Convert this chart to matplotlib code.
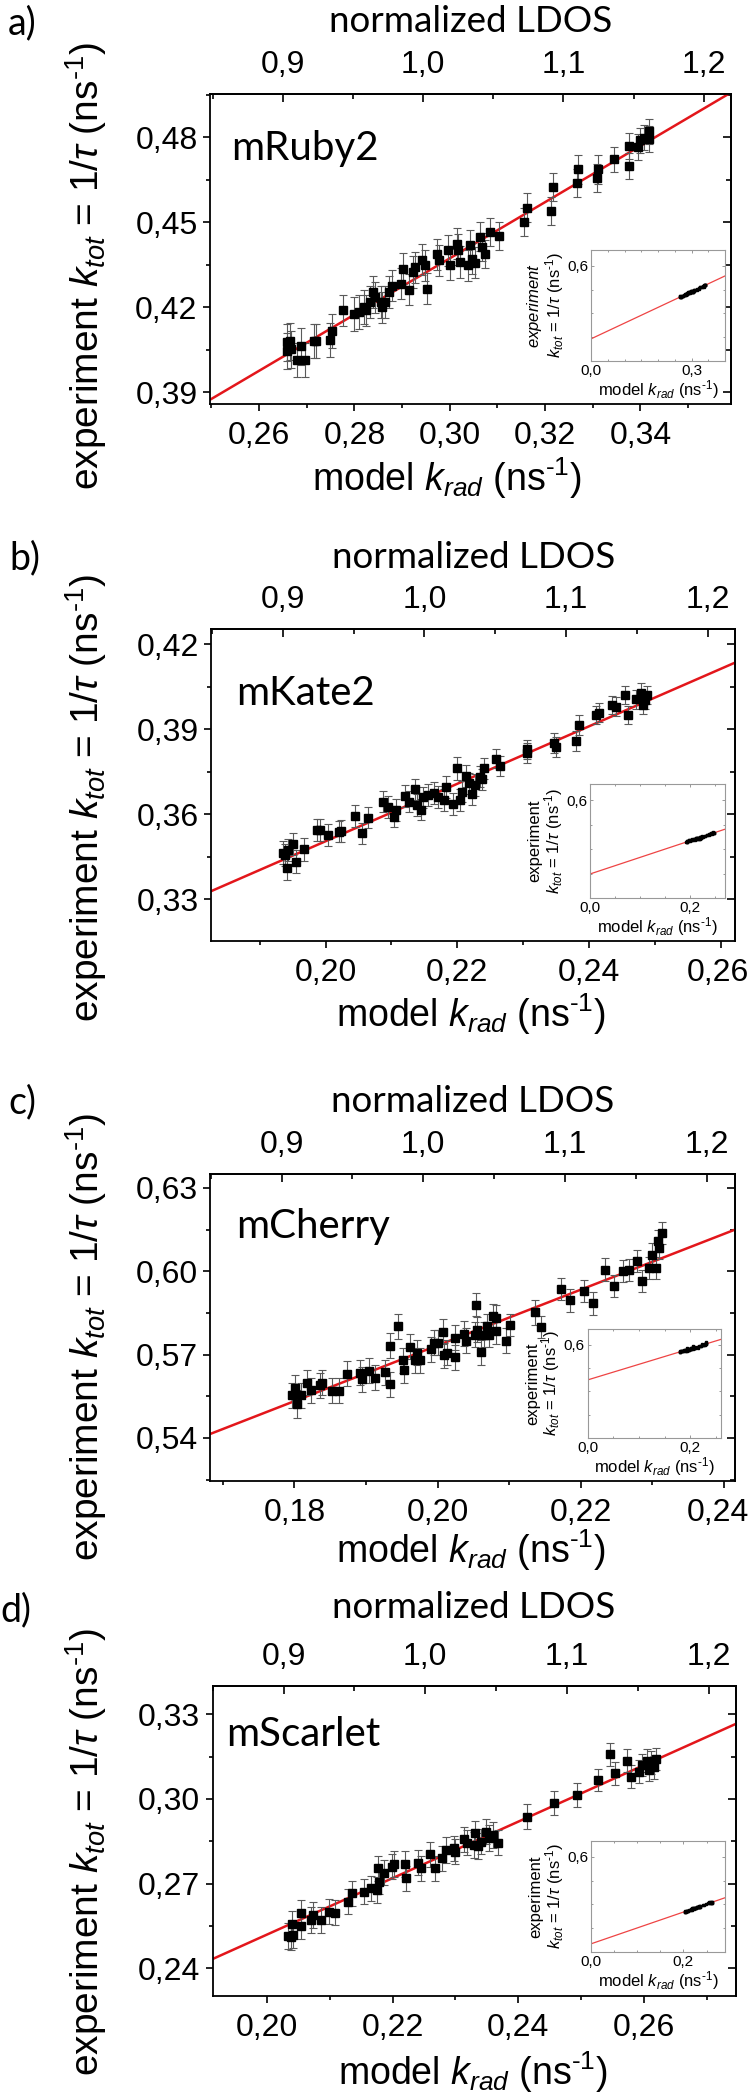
import matplotlib
matplotlib.use('Agg')
import matplotlib.pyplot as plt
from matplotlib.ticker import FuncFormatter, MultipleLocator, FixedLocator, NullFormatter
from matplotlib.transforms import ScaledTranslation
import numpy as np

plt.rcParams['font.family'] = ['Liberation Sans', 'DejaVu Sans']
plt.rcParams['mathtext.fontset'] = 'custom'
plt.rcParams['mathtext.rm'] = 'Liberation Sans'
plt.rcParams['mathtext.it'] = 'Liberation Sans:italic'
plt.rcParams['mathtext.bf'] = 'Liberation Sans:bold'

# ---------------- data ----------------
names = ['mRuby2', 'mKate2', 'mCherry', 'mScarlet']
letters = ['a)', 'b)', 'c)', 'd)']

krad_a = [0.2658, 0.2658, 0.2665, 0.2667, 0.2680, 0.2687, 0.2697, 0.2715, 0.2720, 0.2748, 0.2753, 0.2777,
          0.2800, 0.2810, 0.2820, 0.2825, 0.2832, 0.2840, 0.2843, 0.2855, 0.2858, 0.2865, 0.2873, 0.2878,
          0.2898, 0.2902, 0.2915, 0.2922, 0.2927, 0.2942, 0.2948, 0.2953, 0.2973, 0.2978, 0.2997, 0.3000,
          0.3015, 0.3018, 0.3022, 0.3038, 0.3042, 0.3047, 0.3052, 0.3063, 0.3068, 0.3073, 0.3085, 0.3103,
          0.3155, 0.3162, 0.3213, 0.3217, 0.3267, 0.3268, 0.3308, 0.3310, 0.3345, 0.3375, 0.3377, 0.3395,
          0.3400, 0.3408, 0.3417, 0.3417]
ktot_a = [0.4076, 0.4045, 0.4080, 0.4051, 0.4014, 0.4062, 0.4014, 0.4082, 0.4080, 0.4085, 0.4115, 0.4189,
          0.4174, 0.4182, 0.4200, 0.4188, 0.4218, 0.4253, 0.4235, 0.4218, 0.4200, 0.4218, 0.4253, 0.4276,
          0.4282, 0.4335, 0.4261, 0.4324, 0.4341, 0.4367, 0.4347, 0.4265, 0.4386, 0.4365, 0.4400, 0.4349,
          0.4424, 0.4402, 0.4359, 0.4347, 0.4418, 0.4371, 0.4357, 0.4449, 0.4412, 0.4388, 0.4465, 0.4451,
          0.4500, 0.4551, 0.4538, 0.4624, 0.4639, 0.4686, 0.4655, 0.4686, 0.4721, 0.4698, 0.4768, 0.4765,
          0.4788, 0.4798, 0.4820, 0.4794]
err_a = [0.0065, 0.0065, 0.0065, 0.0065, 0.0060, 0.0065, 0.0060, 0.0060, 0.0060, 0.0060, 0.0060, 0.0055,
         0.0060, 0.0060, 0.0060, 0.0055, 0.0055, 0.0055, 0.0055, 0.0055, 0.0055, 0.0055, 0.0055, 0.0055,
         0.0055, 0.0055, 0.0055, 0.0055, 0.0055, 0.0055, 0.0055, 0.0055, 0.0055, 0.0055, 0.0055, 0.0055,
         0.0055, 0.0055, 0.0055, 0.0055, 0.0055, 0.0055, 0.0055, 0.0050, 0.0050, 0.0050, 0.0050, 0.0050,
         0.0050, 0.0050, 0.0050, 0.0050, 0.0050, 0.0050, 0.0050, 0.0050, 0.0045, 0.0045, 0.0045, 0.0045,
         0.0045, 0.0045, 0.0045, 0.0045]

krad_b = [0.1936, 0.1938, 0.1941, 0.1943, 0.1951, 0.1955, 0.1967, 0.1987, 0.1991, 0.2004, 0.2020, 0.2023,
          0.2045, 0.2055, 0.2065, 0.2087, 0.2095, 0.2104, 0.2107, 0.2121, 0.2127, 0.2136, 0.2138, 0.2145,
          0.2148, 0.2156, 0.2165, 0.2170, 0.2179, 0.2183, 0.2194, 0.2200, 0.2204, 0.2207, 0.2213, 0.2218,
          0.2222, 0.2227, 0.2234, 0.2238, 0.2240, 0.2258, 0.2265, 0.2305, 0.2306, 0.2347, 0.2349, 0.2380,
          0.2385, 0.2410, 0.2414, 0.2434, 0.2440, 0.2454, 0.2459, 0.2471, 0.2478, 0.2481, 0.2485, 0.2487]
ktot_b = [0.3464, 0.3455, 0.3408, 0.3473, 0.3494, 0.3432, 0.3475, 0.3544, 0.3544, 0.3526, 0.3538, 0.3541,
          0.3593, 0.3532, 0.3587, 0.3644, 0.3624, 0.3591, 0.3614, 0.3664, 0.3644, 0.3687, 0.3632, 0.3616,
          0.3659, 0.3667, 0.3675, 0.3661, 0.3649, 0.3696, 0.3635, 0.3761, 0.3649, 0.3679, 0.3734, 0.3708,
          0.3671, 0.3702, 0.3732, 0.3722, 0.3761, 0.3796, 0.3769, 0.3828, 0.3814, 0.3852, 0.3838, 0.3859,
          0.3914, 0.3949, 0.3958, 0.3985, 0.3979, 0.4020, 0.3949, 0.4005, 0.4028, 0.3985, 0.4002, 0.4020]
err_b = [0.0040, 0.0040, 0.0040, 0.0040, 0.0040, 0.0040, 0.0040, 0.0040, 0.0040, 0.0040, 0.0038, 0.0038,
         0.0038, 0.0038, 0.0038, 0.0038, 0.0038, 0.0038, 0.0038, 0.0038, 0.0038, 0.0038, 0.0038, 0.0038,
         0.0038, 0.0038, 0.0038, 0.0038, 0.0038, 0.0038, 0.0038, 0.0040, 0.0038, 0.0038, 0.0038, 0.0038,
         0.0038, 0.0038, 0.0038, 0.0038, 0.0038, 0.0035, 0.0035, 0.0035, 0.0035, 0.0035, 0.0035, 0.0035,
         0.0035, 0.0033, 0.0033, 0.0033, 0.0033, 0.0033, 0.0033, 0.0033, 0.0033, 0.0033, 0.0033, 0.0033]

krad_c = [0.1797, 0.1801, 0.1804, 0.1809, 0.1818, 0.1823, 0.1836, 0.1838, 0.1853, 0.1862, 0.1873, 0.1892,
          0.1894, 0.1904, 0.1912, 0.1927, 0.1933, 0.1934, 0.1945, 0.1952, 0.1953, 0.1961, 0.1968, 0.1971,
          0.1976, 0.1991, 0.1995, 0.2001, 0.2008, 0.2009, 0.2013, 0.2024, 0.2024, 0.2037, 0.2039, 0.2052,
          0.2053, 0.2055, 0.2061, 0.2065, 0.2069, 0.2072, 0.2077, 0.2081, 0.2081, 0.2096, 0.2101, 0.2136,
          0.2145, 0.2173, 0.2185, 0.2205, 0.2217, 0.2234, 0.2246, 0.2259, 0.2267, 0.2279, 0.2286, 0.2296,
          0.2299, 0.2305, 0.2308, 0.2310, 0.2313]
ktot_c = [0.5553, 0.5581, 0.5521, 0.5553, 0.5599, 0.5572, 0.5589, 0.5599, 0.5569, 0.5569, 0.5631, 0.5635,
          0.5611, 0.5641, 0.5617, 0.5637, 0.5593, 0.5731, 0.5802, 0.5680, 0.5644, 0.5728, 0.5679, 0.5707,
          0.5680, 0.5719, 0.5743, 0.5743, 0.5782, 0.5697, 0.5707, 0.5691, 0.5761, 0.5775, 0.5749, 0.5772,
          0.5880, 0.5790, 0.5709, 0.5772, 0.5802, 0.5772, 0.5838, 0.5784, 0.5832, 0.5749, 0.5806, 0.5853,
          0.5800, 0.5937, 0.5895, 0.5928, 0.5884, 0.6006, 0.5948, 0.6000, 0.6004, 0.6036, 0.5964, 0.6012,
          0.6060, 0.6011, 0.6108, 0.6084, 0.6138]
err_c = [0.0045, 0.0045, 0.0050, 0.0045, 0.0045, 0.0045, 0.0045, 0.0045, 0.0045, 0.0045, 0.0045, 0.0045,
         0.0045, 0.0045, 0.0045, 0.0045, 0.0045, 0.0045, 0.0045, 0.0045, 0.0045, 0.0045, 0.0045, 0.0045,
         0.0045, 0.0045, 0.0045, 0.0045, 0.0045, 0.0045, 0.0045, 0.0045, 0.0045, 0.0045, 0.0045, 0.0045,
         0.0040, 0.0045, 0.0045, 0.0045, 0.0045, 0.0045, 0.0045, 0.0045, 0.0045, 0.0045, 0.0040, 0.0045,
         0.0040, 0.0040, 0.0040, 0.0040, 0.0040, 0.0040, 0.0040, 0.0040, 0.0040, 0.0040, 0.0040, 0.0040,
         0.0040, 0.0040, 0.0040, 0.0040, 0.0040]

krad_d = [0.2034, 0.2038, 0.2040, 0.2042, 0.2054, 0.2054, 0.2070, 0.2073, 0.2086, 0.2099, 0.2109, 0.2130,
          0.2136, 0.2154, 0.2166, 0.2176, 0.2177, 0.2178, 0.2187, 0.2199, 0.2203, 0.2220, 0.2222, 0.2241,
          0.2245, 0.2260, 0.2267, 0.2279, 0.2285, 0.2297, 0.2300, 0.2313, 0.2319, 0.2329, 0.2331, 0.2336,
          0.2340, 0.2349, 0.2354, 0.2359, 0.2368, 0.2414, 0.2456, 0.2493, 0.2526, 0.2546, 0.2554, 0.2572,
          0.2579, 0.2592, 0.2596, 0.2604, 0.2608, 0.2611, 0.2615, 0.2619]
ktot_d = [0.2515, 0.2512, 0.2557, 0.2518, 0.2550, 0.2595, 0.2571, 0.2589, 0.2571, 0.2601, 0.2597, 0.2636,
          0.2666, 0.2672, 0.2683, 0.2678, 0.2754, 0.2707, 0.2739, 0.2760, 0.2770, 0.2770, 0.2719, 0.2774,
          0.2754, 0.2804, 0.2754, 0.2790, 0.2819, 0.2825, 0.2813, 0.2857, 0.2845, 0.2837, 0.2878, 0.2833,
          0.2849, 0.2884, 0.2861, 0.2872, 0.2845, 0.2937, 0.2985, 0.3014, 0.3067, 0.3158, 0.3091, 0.3136,
          0.3079, 0.3097, 0.3120, 0.3136, 0.3103, 0.3129, 0.3112, 0.3141]
err_d = [0.0047, 0.0047, 0.0047, 0.0047, 0.0047, 0.0047, 0.0047, 0.0045, 0.0045, 0.0045, 0.0045, 0.0045,
         0.0045, 0.0045, 0.0045, 0.0045, 0.0045, 0.0045, 0.0045, 0.0045, 0.0045, 0.0045, 0.0045, 0.0045,
         0.0045, 0.0045, 0.0045, 0.0045, 0.0045, 0.0045, 0.0045, 0.0045, 0.0045, 0.0045, 0.0045, 0.0045,
         0.0045, 0.0045, 0.0045, 0.0045, 0.0045, 0.0045, 0.0043, 0.0043, 0.0040, 0.0040, 0.0040, 0.0040,
         0.0040, 0.0040, 0.0040, 0.0040, 0.0040, 0.0040, 0.0040, 0.0040]

# linear fits  k_tot = slope * k_rad + intercept
slopes = [0.992, 1.015, 1.003, 1.002]
intercepts = [0.1396, 0.1474, 0.3727, 0.0515]
# k_rad corresponding to normalized LDOS = 1
ldos_norm = [0.2944, 0.2150, 0.1980, 0.2252]
ldos_ticks = [0.9, 1.0, 1.1, 1.2]
ldos_minor = [0.85, 0.95, 1.05, 1.15]

xlims = [(0.2497, 0.3590), (0.1827, 0.2621), (0.1682, 0.2415), (0.1914, 0.2745)]
ylims = [(0.3858, 0.4952), (0.3152, 0.4253), (0.5245, 0.6350), (0.2302, 0.3400)]
inset_xmax = [0.40, 0.27, 0.26, 0.29]
inset_xticks = [[0.0, 0.3], [0.0, 0.2], [0.0, 0.2], [0.0, 0.2]]

krads = [krad_a, krad_b, krad_c, krad_d]
ktots = [ktot_a, ktot_b, ktot_c, ktot_d]
errs = [err_a, err_b, err_c, err_d]

# ---------------- layout (pixels) ----------------
W, H = 750, 2093
boxes = [(210, 731, 94, 404), (211.5, 735, 629, 941), (210, 734.6, 1174, 1481), (212.5, 735.6, 1686, 1996)]
iboxes = [(591, 725, 250, 361), (590, 724.5, 784, 898), (587.5, 721, 1329, 1438), (591, 725, 1841, 1952)]
name_pos = [(231, 160), (236, 705), (236, 1238), (226, 1746)]
letter_pos = [(8, 23), (9, 558), (8, 1102), (0, 1610)]
ldos_y = [32, 568, 1112, 1618]
ylab_pos = [(86, 266), (86, 798), (86, 1337), (86, 1852)]
xlab_pos = [(447, 478), (471, 1014), (471, 1550), (473, 2072)]

RED = '#e3161b'
TICK_FS = 23
YLAB_FS = 28
XLAB_FS = 27
SUP = '$^{\u2010\\mathregular{1}}$'

fig = plt.figure(figsize=(W / 100, H / 100), dpi=100)


def fxy(px, py):
    return px / W, 1 - py / H


def comma(fmt):
    return FuncFormatter(lambda v, p: (fmt % v).replace('.', ','))


axes_main = []
for i in range(4):
    l, r, t, b = boxes[i]
    ax = fig.add_axes([l / W, 1 - b / H, (r - l) / W, (b - t) / H])
    axes_main.append(ax)
    ax.set_xlim(*xlims[i])
    ax.set_ylim(*ylims[i])
    xl = np.array(xlims[i])
    ax.plot(xl, slopes[i] * xl + intercepts[i], color=RED, lw=1.8, zorder=2)
    ax.errorbar(krads[i], ktots[i], yerr=errs[i], fmt='s', ms=5.2, mfc='black', mec='black',
                ecolor='#5a5a5a', elinewidth=0.8, capsize=2.8, capthick=0.8, zorder=3)

    ax.xaxis.set_major_locator(MultipleLocator(0.02))
    ax.xaxis.set_minor_locator(MultipleLocator(0.01))
    ax.yaxis.set_major_locator(MultipleLocator(0.03))
    ax.yaxis.set_minor_locator(MultipleLocator(0.015))
    ax.xaxis.set_major_formatter(comma('%.2f'))
    ax.yaxis.set_major_formatter(comma('%.2f'))
    ax.tick_params(which='both', direction='out', top=False, right=False, width=1.2,
                   labelsize=TICK_FS)
    ax.tick_params(which='major', length=5)
    ax.tick_params(which='minor', length=3)
    ax.tick_params(axis='x', pad=7)
    ax.tick_params(axis='y', pad=4)
    for s in ax.spines.values():
        s.set_linewidth(1.3)

    n = ldos_norm[i]
    sec = ax.secondary_xaxis('top', functions=(lambda k, n=n: k / n, lambda L, n=n: L * n))
    sec.xaxis.set_major_locator(FixedLocator(ldos_ticks))
    sec.xaxis.set_minor_locator(FixedLocator(ldos_minor))
    sec.xaxis.set_major_formatter(comma('%.1f'))
    sec.tick_params(which='both', direction='in', width=1.2, labelsize=TICK_FS, pad=10)
    sec.tick_params(which='major', length=6)
    sec.tick_params(which='minor', length=3.5)
    sec.spines['top'].set_linewidth(1.3)

    secy = ax.secondary_yaxis('right')
    secy.yaxis.set_major_locator(MultipleLocator(0.03))
    secy.yaxis.set_minor_locator(MultipleLocator(0.015))
    secy.yaxis.set_major_formatter(NullFormatter())
    secy.tick_params(which='both', direction='in', width=1.2, labelright=False)
    secy.tick_params(which='major', length=6)
    secy.tick_params(which='minor', length=3.5)
    secy.spines['right'].set_linewidth(1.3)

    # texts
    x0, y0 = fxy(*name_pos[i])
    fig.text(x0, y0, names[i], family=['Lato', 'DejaVu Sans'], fontsize=29, ha='left', va='baseline')
    x0, y0 = fxy(*letter_pos[i])
    fig.text(x0, y0, letters[i], family=['Lato', 'DejaVu Sans'], fontsize=27, ha='left', va='center')
    x0, y0 = fxy((l + r) / 2, ldos_y[i])
    fig.text(x0, y0, 'normalized LDOS', family=['Lato', 'DejaVu Sans'], fontsize=26.5,
             ha='center', va='baseline')
    x0, y0 = fxy(*ylab_pos[i])
    fig.text(x0, y0, 'experiment $k_{tot}$ = 1/$\\tau$ (ns' + SUP + ')', fontsize=YLAB_FS,
             rotation=90, ha='center', va='center')
    x0, y0 = fxy(*xlab_pos[i])
    fig.text(x0, y0, 'model $k_{rad}$ (ns' + SUP + ')', fontsize=XLAB_FS, ha='center', va='center')

    # inset
    il, ir, it, ib = iboxes[i]
    ins = fig.add_axes([il / W, 1 - ib / H, (ir - il) / W, (ib - it) / H])
    ins.set_facecolor('white')
    ins.set_xlim(0, inset_xmax[i])
    ins.set_ylim(0, 0.7)
    xx = np.array([0, inset_xmax[i]])
    ins.plot(xx, slopes[i] * xx + intercepts[i], color='#ee4444', lw=0.9, zorder=2)
    ins.errorbar(krads[i], ktots[i], yerr=errs[i], fmt='s', ms=1.6, mfc='black', mec='black',
                 ecolor='#333333', elinewidth=0.4, zorder=3)
    ins.xaxis.set_major_locator(FixedLocator(inset_xticks[i]))
    ins.xaxis.set_minor_locator(MultipleLocator(0.05))
    ins.yaxis.set_major_locator(FixedLocator([0.6]))
    ins.yaxis.set_minor_locator(MultipleLocator(0.15))
    ins.xaxis.set_major_formatter(comma('%.1f'))
    ins.yaxis.set_major_formatter(comma('%.1f'))
    ins.tick_params(which='both', direction='in', color='#888888', width=0.6, labelsize=11,
                    top=True, right=True)
    ins.tick_params(which='major', length=2.5, pad=2)
    ins.tick_params(which='minor', length=1.5)
    for s in ins.spines.values():
        s.set_color('#999999')
        s.set_linewidth(0.8)
    ins.set_xlabel('model $k_{rad}$ (ns' + SUP + ')', fontsize=12, labelpad=0)
    first = '$experiment$' if i == 0 else 'experiment'
    ins.set_ylabel(first + '\n$k_{tot}$ = 1/$\\tau$ (ns' + SUP + ')', fontsize=12, labelpad=1,
                   linespacing=0.95)

# keep the right-most bottom tick label of panel c inside the figure
fig.canvas.draw()
renderer = fig.canvas.get_renderer()
for ax in axes_main:
    for tick in ax.xaxis.get_major_ticks():
        lab = tick.label1
        if lab.get_visible() and lab.get_text():
            bb = lab.get_window_extent(renderer)
            if bb.x1 > W - 1:
                dx = (W - 1 - bb.x1) / 100.0
                lab.set_transform(lab.get_transform() + ScaledTranslation(dx, 0, fig.dpi_scale_trans))

fig.savefig('out.png', dpi=100)
